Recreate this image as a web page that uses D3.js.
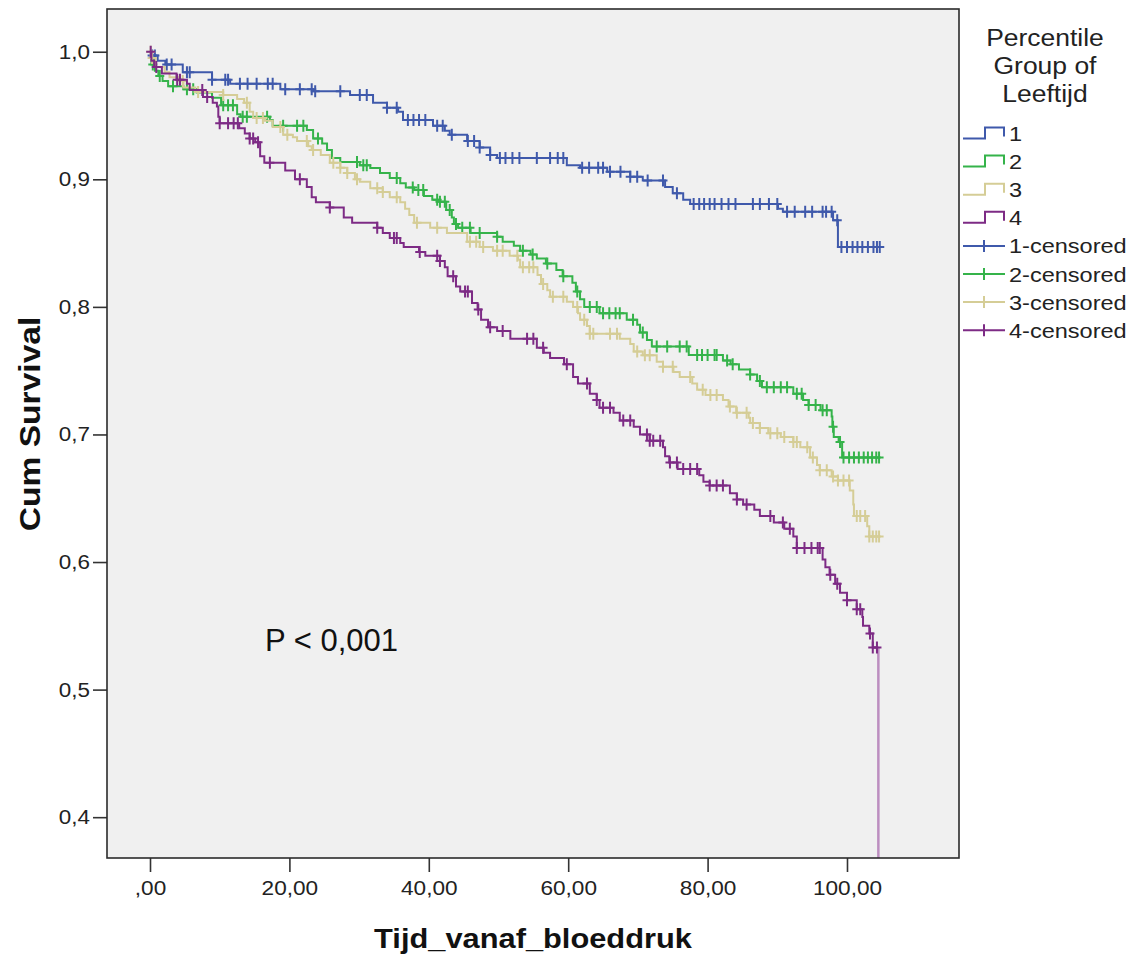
<!DOCTYPE html>
<html><head><meta charset="utf-8">
<script src="https://cdn.jsdelivr.net/npm/d3@7"></script>
<style>body{margin:0;background:#fff}svg{display:block}</style>
</head><body><svg id="c" width="1135" height="956"></svg>
<script>
// ---------- data ----------
const groups = ["1", "2", "3", "4"];
const legendTitle = ["Percentile", "Group of", "Leeftijd"];
const xTicks = [0, 20, 40, 60, 80, 100];
const yTicks = [0.4, 0.5, 0.6, 0.7, 0.8, 0.9, 1.0];
const xTitle = "Tijd_vanaf_bloeddruk";
const yTitle = "Cum Survival";
const note = "P < 0,001";

// group 1: event times, survival after event, censored times
const t1 = [0.3, 1.1, 2.2, 4.7, 8.9, 11.5, 18.7, 23.4, 28.7, 32, 34, 35.6, 36.3, 40.6, 42.3, 43, 45.5, 47.3, 48.8, 49.8, 59.8, 61.7, 65.6, 68.9, 70.7, 73.9, 75, 76.5, 77.5, 90.1, 90.8, 98, 98.7];
const s1 = [0.997, 0.993, 0.99, 0.984, 0.978, 0.975, 0.9705, 0.969, 0.966, 0.96, 0.956, 0.953, 0.9465, 0.942, 0.938, 0.935, 0.93, 0.925, 0.919, 0.9167, 0.911, 0.909, 0.906, 0.902, 0.899, 0.894, 0.889, 0.884, 0.8806, 0.877, 0.8746, 0.868, 0.847];
const c1 = [0.3, 0.7, 2.4, 3.1, 5.3, 5.7, 8.9, 10.8, 11.2, 12.9, 14, 15.3, 16.9, 17.6, 19.4, 21.5, 23.2, 23.7, 27.3, 30.1, 31.1, 34, 35.4, 37, 37.8, 38.6, 39.5, 41.2, 42, 43.3, 45.6, 46.5, 47.3, 48.8, 50.2, 51, 52, 53, 55.5, 57.4, 58.5, 59.3, 62, 63, 64.3, 65, 66, 67.5, 68.9, 69.9, 71.4, 73.6, 75.6, 78, 78.8, 79.5, 80.3, 81, 82, 83, 84, 86.5, 87.5, 88.8, 90, 91.4, 92.5, 94, 95, 96.5, 97, 97.8, 98.6, 99.2, 100, 100.8, 101.5, 102.2, 103, 103.8, 104.3, 104.7];

// group 2
const t2 = [0.2, 0.7, 1.2, 1.8, 2.6, 4.8, 6.7, 8.9, 10.2, 12.5, 13, 17.2, 17.6, 22.5, 23.4, 24.7, 25.4, 26.1, 27.3, 30.1, 31.6, 33, 34.4, 35.9, 36.7, 37.9, 39.3, 40.5, 41.5, 42.5, 43.3, 43.6, 44.2, 46, 49.8, 50.6, 52.2, 53.1, 54.6, 55.5, 56.8, 58.3, 59.2, 60.6, 61.1, 61.7, 62.3, 64.5, 68.4, 69.9, 70.3, 71.3, 72, 77.3, 82.2, 83.3, 84.5, 86.1, 87.1, 87.8, 92.3, 93.7, 94.5, 96.2, 97.8, 97.9, 98.1, 98.8, 99.3];
const s2 = [0.99, 0.985, 0.981, 0.977, 0.973, 0.9705, 0.968, 0.964, 0.958, 0.951, 0.949, 0.9465, 0.942, 0.9386, 0.932, 0.928, 0.923, 0.9167, 0.9136, 0.911, 0.9088, 0.905, 0.901, 0.897, 0.8935, 0.8916, 0.887, 0.884, 0.8825, 0.876, 0.87, 0.865, 0.862, 0.858, 0.855, 0.851, 0.848, 0.844, 0.841, 0.838, 0.834, 0.829, 0.824, 0.819, 0.812, 0.806, 0.80, 0.795, 0.79, 0.786, 0.78, 0.774, 0.769, 0.7623, 0.758, 0.755, 0.751, 0.747, 0.742, 0.737, 0.732, 0.727, 0.723, 0.719, 0.714, 0.706, 0.698, 0.694, 0.682];
const c2 = [0.4, 1.4, 3.3, 5.3, 6.2, 10.5, 11.2, 11.9, 13.3, 13.9, 16.8, 19.1, 21.1, 22, 24.1, 29.7, 30.6, 31.1, 35.4, 37.7, 38.5, 39.2, 41.2, 41.6, 42.3, 43, 43.9, 44.8, 45.9, 47.3, 49.8, 53.5, 54.9, 57, 59.3, 61.3, 63.1, 64.1, 65, 65.9, 66.8, 67.4, 69.3, 70.7, 72.7, 74.2, 76, 77, 78.5, 79.2, 80, 81, 81.3, 82.8, 83.6, 86.1, 87.5, 88.5, 89.5, 90.5, 91.4, 92.8, 93.5, 94.5, 95.5, 96.5, 97.1, 98, 99, 99.5, 100.3, 101, 101.7, 102.4, 103, 103.6, 104.2, 104.6];

// group 3
const t3 = [0.3, 0.8, 2.1, 2.8, 4.3, 4.8, 6.5, 10.5, 12.5, 13.5, 14.3, 14.8, 16.5, 17.6, 19.1, 20.5, 21.1, 22.7, 23.2, 24.5, 25.8, 27.3, 28.3, 29.4, 30.1, 31.6, 33.4, 34.4, 35.9, 36.6, 37.2, 37.9, 40.2, 42.6, 45.5, 47.3, 49.2, 51.6, 52.8, 53.1, 55.6, 56.1, 57, 57.4, 59.8, 60.7, 61.4, 61.7, 62.7, 63.1, 67.4, 68.9, 69.4, 70.7, 72.7, 73.6, 75.1, 76, 77.8, 78.5, 79.7, 82.2, 83, 84.1, 85.9, 86.1, 87.5, 88.7, 90.5, 92.3, 93.3, 94.7, 95.7, 96.1, 97.8, 98.7, 100.4, 100.9, 101, 102.9, 103.2];
const s3 = [0.995, 0.988, 0.984, 0.98, 0.977, 0.972, 0.9685, 0.966, 0.963, 0.96, 0.953, 0.948, 0.946, 0.941, 0.935, 0.933, 0.93, 0.926, 0.923, 0.919, 0.913, 0.909, 0.905, 0.9, 0.898, 0.893, 0.89, 0.886, 0.882, 0.877, 0.872, 0.866, 0.862, 0.858, 0.851, 0.847, 0.844, 0.84, 0.837, 0.831, 0.825, 0.818, 0.813, 0.808, 0.804, 0.8, 0.795, 0.79, 0.785, 0.779, 0.775, 0.771, 0.765, 0.762, 0.757, 0.753, 0.749, 0.745, 0.74, 0.735, 0.731, 0.727, 0.722, 0.717, 0.713, 0.709, 0.705, 0.701, 0.698, 0.694, 0.69, 0.682, 0.676, 0.672, 0.667, 0.664, 0.656, 0.645, 0.636, 0.628, 0.62];
const c3 = [0.1, 0.3, 4.7, 6.9, 10.5, 13.9, 15.3, 16.2, 18.7, 19.7, 22.5, 23.4, 26.3, 27.3, 28.3, 29.7, 32.6, 33.4, 35.4, 38.3, 41.2, 45.9, 46.8, 47.8, 49.8, 50.6, 52.7, 53.5, 54.4, 55, 56.4, 57.8, 59.3, 61.3, 62.3, 63.1, 63.6, 66, 67, 69.9, 71, 71.7, 73.6, 75, 77.5, 79.3, 80.4, 81.3, 83.2, 84.2, 85.6, 86.5, 87.5, 89, 90, 91, 92.3, 92.8, 94.3, 95.1, 96.1, 97.1, 98, 98.7, 99.5, 100.3, 101.4, 101.9, 102.6, 103.2, 103.7, 104.2, 104.6];

// group 4
const t4 = [0.2, 0.6, 1.7, 3.8, 5.3, 5.7, 7.6, 9, 9.6, 9.8, 10, 12.8, 13.6, 14.3, 15.1, 15.8, 16.4, 19.4, 20.8, 22.5, 23.2, 23.8, 25.8, 27.8, 29, 32.6, 33.4, 34.4, 35.9, 36.4, 38.6, 39.5, 41.6, 42.3, 42.7, 43.9, 44.5, 46.2, 47, 47.5, 48.5, 49.8, 51.7, 55.5, 56.5, 57.4, 59.4, 60.7, 61.4, 63.1, 64.1, 64.5, 66.5, 67.4, 69.4, 70.3, 71.7, 73.6, 73.9, 74.5, 75.7, 78.8, 79.4, 80.3, 83.2, 84.2, 85.1, 86.7, 87.5, 89.5, 91, 92.3, 92.8, 96.5, 96.9, 97.5, 98.3, 99, 100, 101.4, 102.2, 102.3, 103.2, 103.7, 104.5];
const s4 = [0.993, 0.988, 0.983, 0.978, 0.975, 0.97, 0.9645, 0.96, 0.957, 0.949, 0.944, 0.94, 0.936, 0.932, 0.929, 0.918, 0.913, 0.907, 0.9, 0.894, 0.886, 0.882, 0.878, 0.87, 0.866, 0.862, 0.858, 0.854, 0.85, 0.847, 0.843, 0.84, 0.836, 0.831, 0.824, 0.816, 0.812, 0.803, 0.798, 0.79, 0.784, 0.781, 0.775, 0.768, 0.764, 0.76, 0.755, 0.745, 0.74, 0.732, 0.727, 0.721, 0.717, 0.711, 0.706, 0.70, 0.695, 0.69, 0.683, 0.678, 0.673, 0.668, 0.663, 0.66, 0.654, 0.649, 0.645, 0.641, 0.636, 0.631, 0.626, 0.62, 0.611, 0.602, 0.596, 0.59, 0.583, 0.576, 0.57, 0.563, 0.557, 0.55, 0.544, 0.533, 0];
const c4 = [0.1, 0.9, 3.9, 4.3, 7.5, 8.2, 10, 11.2, 12, 12.6, 14.3, 14.8, 15.5, 17.2, 21.5, 25.8, 32.6, 35, 35.4, 38.7, 41.2, 41.6, 43.5, 45.2, 45.6, 47.1, 48.8, 50.6, 54.1, 55, 56.4, 59.8, 62.7, 64.1, 65, 66, 67.9, 68.9, 71.3, 71.7, 72.2, 73.2, 74.6, 75.6, 76.5, 77.5, 78.5, 80.3, 81.3, 82.2, 84.2, 85.6, 89, 90.8, 91.8, 92.8, 93.9, 94.9, 95.8, 96.1, 97.6, 98.6, 100, 101.4, 101.9, 103.3, 103.7, 104.3];

const colors = ["#3f59ab", "#35b34a", "#d5cd96", "#7d2b85"];
const dropColor = ["#9aa8d4", "#93d59e", "#e8e3c4", "#bc8ec0"];

// ---------- layout ----------
const svg = d3.select("#c");
const P = {l: 107, t: 9, r: 959, b: 858};
const x = d3.scaleLinear().domain([-6.17, 116.07]).range([P.l, P.r]);
const y = d3.scaleLinear().domain([0.368, 1.0335]).range([P.b, P.t]);
const FONT = "'Liberation Sans', Arial, sans-serif";

function stretch(sel, f) {
  sel.each(function () {
    const w = this.getComputedTextLength();
    this.setAttribute("textLength", w * f);
    this.setAttribute("lengthAdjust", "spacingAndGlyphs");
  });
}

svg.append("rect").attr("width", 1135).attr("height", 956).attr("fill", "#fff");
svg.append("rect").attr("x", P.l).attr("y", P.t).attr("width", P.r - P.l).attr("height", P.b - P.t).attr("fill", "#f0f0f0");

// axes
const loc = d3.formatLocale({decimal: ",", thousands: ".", grouping: [3], currency: ["", ""]});
const fx = v => loc.format(".2f")(v).replace(/^0,/, ",");
const fy = loc.format(".1f");

const gx = svg.append("g").attr("transform", `translate(0,${P.b})`)
  .call(d3.axisBottom(x).tickValues(xTicks).tickFormat(fx).tickSize(14).tickPadding(9).tickSizeOuter(0));
const gy = svg.append("g").attr("transform", `translate(${P.l},0)`)
  .call(d3.axisLeft(y).tickValues(yTicks).tickFormat(fy).tickSize(14).tickPadding(3).tickSizeOuter(0));
[gx, gy].forEach(g => {
  g.select(".domain").remove();
  g.selectAll(".tick line").attr("stroke", "#333").attr("stroke-width", 1.6);
  g.selectAll(".tick text").attr("font-family", FONT).attr("font-size", 20).attr("fill", "#222");
});
stretch(gx.selectAll(".tick text"), 1.13);
stretch(gy.selectAll(".tick text"), 1.12);

// curves
const clip = svg.append("clipPath").attr("id", "pc").append("rect")
  .attr("x", P.l).attr("y", P.t).attr("width", P.r - P.l).attr("height", P.b - P.t);
const gc = svg.append("g").attr("clip-path", "url(#pc)");
const line = d3.line().x(d => x(d[0])).y(d => y(d[1])).curve(d3.curveStepAfter);

const series = [[t1, s1, c1], [t2, s2, c2], [t3, s3, c3], [t4, s4, c4]];
series.forEach(([ts, ss, cs], gi) => {
  let pts = [[0, 1]];
  let drop = null;
  ts.forEach((t, i) => {
    if (ss[i] === 0) drop = [t, ss[i - 1] !== undefined ? ss[i - 1] : 1];
    else pts.push([t, ss[i]]);
  });
  const lastT = Math.max(ts[ts.length - 1], cs[cs.length - 1]);
  const lastS = pts[pts.length - 1][1];
  pts.push([lastT, lastS]);
  gc.append("path").attr("d", line(pts)).attr("fill", "none")
    .attr("stroke", colors[gi]).attr("stroke-width", 2);
  if (drop) {
    gc.append("line").attr("x1", x(drop[0])).attr("x2", x(drop[0]))
      .attr("y1", y(drop[1])).attr("y2", y(0))
      .attr("stroke", dropColor[gi]).attr("stroke-width", 2.5);
  }
  const survAt = c => {
    let s = 1;
    ts.forEach((t, i) => { if (t <= c && ss[i] > 0) s = ss[i]; });
    return s;
  };
  gc.append("g").selectAll("path").data(cs).join("path")
    .attr("d", c => {
      const X = x(c), Y = y(survAt(c));
      return `M${X},${Y - 6}V${Y + 6}M${X - 4.5},${Y}H${X + 4.5}`;
    })
    .attr("stroke", colors[gi]).attr("stroke-width", 2).attr("fill", "none");
});

// frame
svg.append("rect").attr("x", P.l).attr("y", P.t).attr("width", P.r - P.l).attr("height", P.b - P.t)
  .attr("fill", "none").attr("stroke", "#2b2b2b").attr("stroke-width", 1.6);

// axis titles
const xt = svg.append("text").attr("x", (P.l + P.r) / 2).attr("y", 948).attr("text-anchor", "middle")
  .attr("font-family", FONT).attr("font-weight", "bold").attr("font-size", 28).attr("fill", "#111").text(xTitle);
stretch(xt, 1.1);
const yt = svg.append("text").attr("transform", "translate(40,424) rotate(-90)").attr("text-anchor", "middle")
  .attr("font-family", FONT).attr("font-weight", "bold").attr("font-size", 30).attr("fill", "#111").text(yTitle);
stretch(yt, 1.12);

// annotation
svg.append("text").attr("x", 265).attr("y", 651).attr("font-family", FONT).attr("font-size", 31)
  .attr("fill", "#111").text(note);

// legend
const lt = svg.append("g").selectAll("text").data(legendTitle).join("text")
  .attr("x", 1045).attr("y", (d, i) => 46 + 28 * i).attr("text-anchor", "middle")
  .attr("font-family", FONT).attr("font-size", 23).attr("fill", "#222").text(d => d);
stretch(lt, 1.15);

const legendItems = groups.map((g, i) => ({label: g, type: "step", gi: i}))
  .concat(groups.map((g, i) => ({label: g + "-censored", type: "cens", gi: i})));
const lg = svg.append("g");
legendItems.forEach((it, i) => {
  const ry = 133.5 + 28.1 * i;
  const d = it.type === "step"
    ? `M963,${ry + 5}H985V${ry - 6}H1004V${ry + 3}`
    : `M963,${ry}H1005M984,${ry - 6}V${ry + 6}`;
  lg.append("path").attr("d", d).attr("fill", "none").attr("stroke", colors[it.gi]).attr("stroke-width", 2);
  const tx = lg.append("text").attr("x", 1009).attr("y", ry + 7.5)
    .attr("font-family", FONT).attr("font-size", 21).attr("fill", "#222").text(it.label);
  stretch(tx, 1.12);
});
</script></body></html>
